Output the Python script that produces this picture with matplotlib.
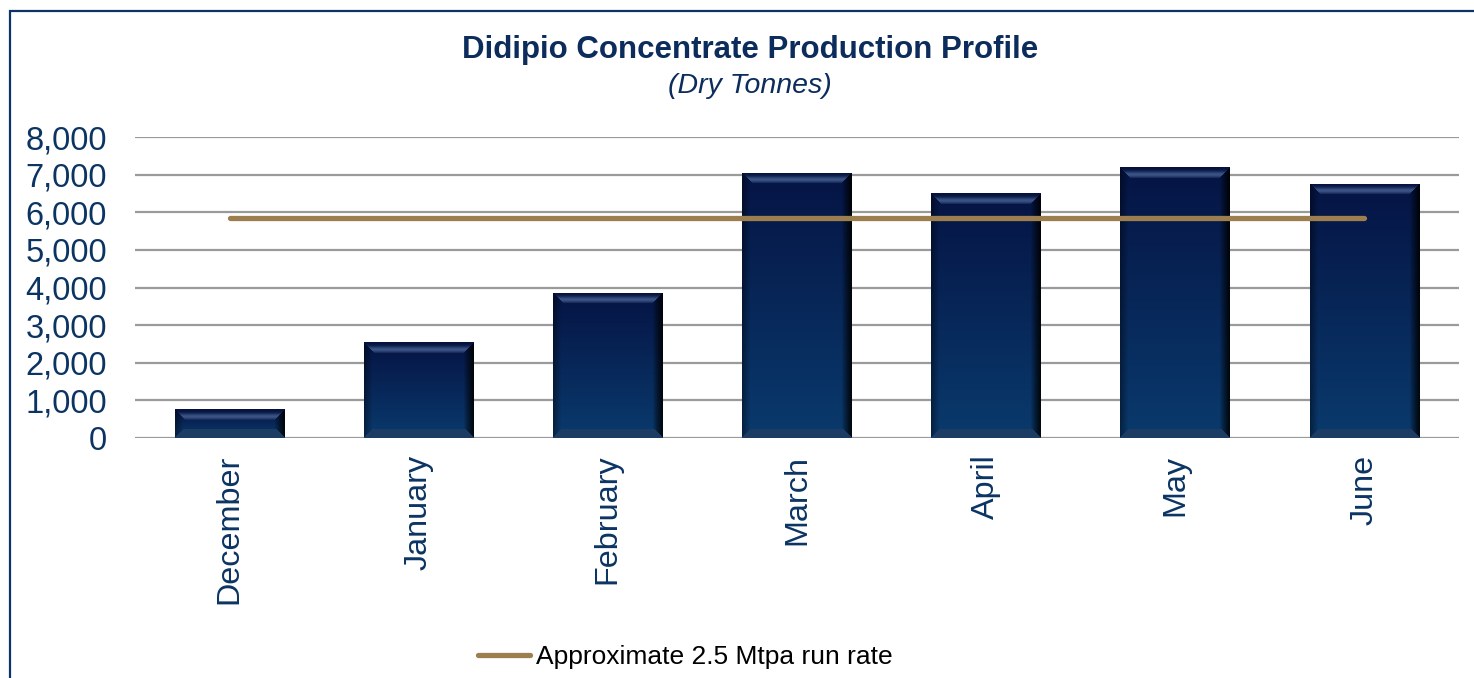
import numpy as np
import matplotlib
matplotlib.use("Agg")
import matplotlib.pyplot as plt
from matplotlib.patches import Rectangle
from matplotlib.ticker import FuncFormatter

plt.rcParams['font.family'] = ['Liberation Sans', 'DejaVu Sans']

months = ["December", "January", "February", "March", "April", "May", "June"]
production = [770, 2550, 3860, 7050, 6500, 7190, 6760]
run_rate = [5850] * len(months)
run_rate_label = "Approximate 2.5 Mtpa run rate"
title = "Didipio Concentrate Production Profile"
subtitle = "(Dry Tonnes)"
yticks = [0, 1000, 2000, 3000, 4000, 5000, 6000, 7000, 8000]

NAVY = "#0b3463"
TITLE_C = "#0c2c5c"
GOLD = "#9c7e4f"

W, H = 1474, 678
fig = plt.figure(figsize=(W / 100, H / 100), dpi=100)
fig.patches.append(Rectangle((10 / W, -0.1), 1.2, (H - 11) / H + 0.1,
                             transform=fig.transFigure, fill=False,
                             edgecolor="#0d3466", linewidth=1.6, zorder=0))

ax = fig.add_axes([135 / W, (H - 438) / H, (1459 - 135) / W, (438 - 137) / H])
x = np.arange(len(months))
bw = 0.58
bars = ax.bar(x, production, width=bw, color="#0a2a5a", zorder=2)

ax.set_xlim(-0.5, len(months) - 0.5)
ax.set_ylim(0, 8000)

# gradient / bevel fill for each bar
top_c = np.array([0x05, 0x14, 0x44]) / 255
bot_c = np.array([0x0a, 0x3a, 0x6d]) / 255
hil_c = np.array([0x3a, 0x54, 0x86]) / 255
px_per_unit = (438 - 137) / 8000.0
wpx = int(round(bw * (1459 - 135) / len(months)))
for b, v in zip(bars, production):
    hpx = max(int(round(v * px_per_unit)), 4)
    rows = np.arange(hpx)[:, None]
    cols = np.arange(wpx)[None, :]
    t = rows / max(hpx - 1, 1)
    img = top_c * (1 - t[..., None]) + bot_c * t[..., None]
    img = np.broadcast_to(img, (hpx, wpx, 3)).copy()
    bev = 11
    # side shading
    dl = cols
    dr = wpx - 1 - cols
    shade = np.ones((1, wpx))
    shade = np.where(dl < 8, 0.6 + 0.4 * dl / 8, shade)
    shade = np.where(dr < 10, 0.15 + 0.85 * (dr / 10) ** 1.2, shade)
    img = img * np.broadcast_to(shade, (hpx, wpx))[..., None]
    # top bevel (trapezoid)
    in_top = (rows < bev) & (cols >= rows) & (cols <= wpx - 1 - rows)
    prof = np.clip(np.exp(-((rows - 7.0) ** 2) / 10.0), 0, 1)
    topband = (top_c * 0.9) * (1 - prof[..., None]) + hil_c * prof[..., None]
    topband = np.broadcast_to(topband, (hpx, wpx, 3))
    m = np.broadcast_to(in_top, (hpx, wpx))
    img[m] = topband[m]
    # bottom bevel
    rb = hpx - 1 - rows
    in_bot = (rb < 9) & (cols >= rb) & (cols <= wpx - 1 - rb)
    m2 = np.broadcast_to(in_bot, (hpx, wpx))
    bcol = np.array([0x1c, 0x3c, 0x64]) / 255
    botband = np.broadcast_to(bcol * np.ones((hpx, 1, 1)), (hpx, wpx, 3))
    img[m2] = botband[m2]
    x0 = b.get_x()
    im = ax.imshow(img, extent=(x0, x0 + b.get_width(), 0, v), aspect="auto",
                   interpolation="bilinear", zorder=3)
    im.set_clip_path(b)

ax.plot(x, run_rate, color=GOLD, linewidth=3.8, solid_capstyle="round",
        zorder=4, label=run_rate_label)

ax.set_yticks(yticks)
ax.yaxis.set_major_formatter(FuncFormatter(lambda v, p: f"{int(v):,}"))
ax.set_xticks(x)
ax.set_xticklabels(months, rotation=90)
ax.tick_params(axis="y", length=0, pad=20, labelsize=23.5, labelcolor=NAVY)
ax.tick_params(axis="x", length=0, pad=12, labelsize=23.3, labelcolor=NAVY)
ax.grid(axis="y", color="#9a9a9a", linewidth=1.6, zorder=1)
ax.set_axisbelow(True)
for s in ax.spines.values():
    s.set_visible(False)

fig.text(750 / W, 1 - 50 / H, title, ha="center", va="center",
         fontsize=22.5, fontweight="bold", color=TITLE_C)
fig.text(750 / W, 1 - 86 / H, subtitle, ha="center", va="center",
         fontsize=20.5, fontstyle="italic", color=TITLE_C)

fig.legend(loc="center", bbox_to_anchor=(685 / W, 21 / H), frameon=False,
           fontsize=19, handlelength=2.0, handletextpad=0.2,
           borderpad=0, borderaxespad=0)

fig.savefig("out.png", dpi=100)
